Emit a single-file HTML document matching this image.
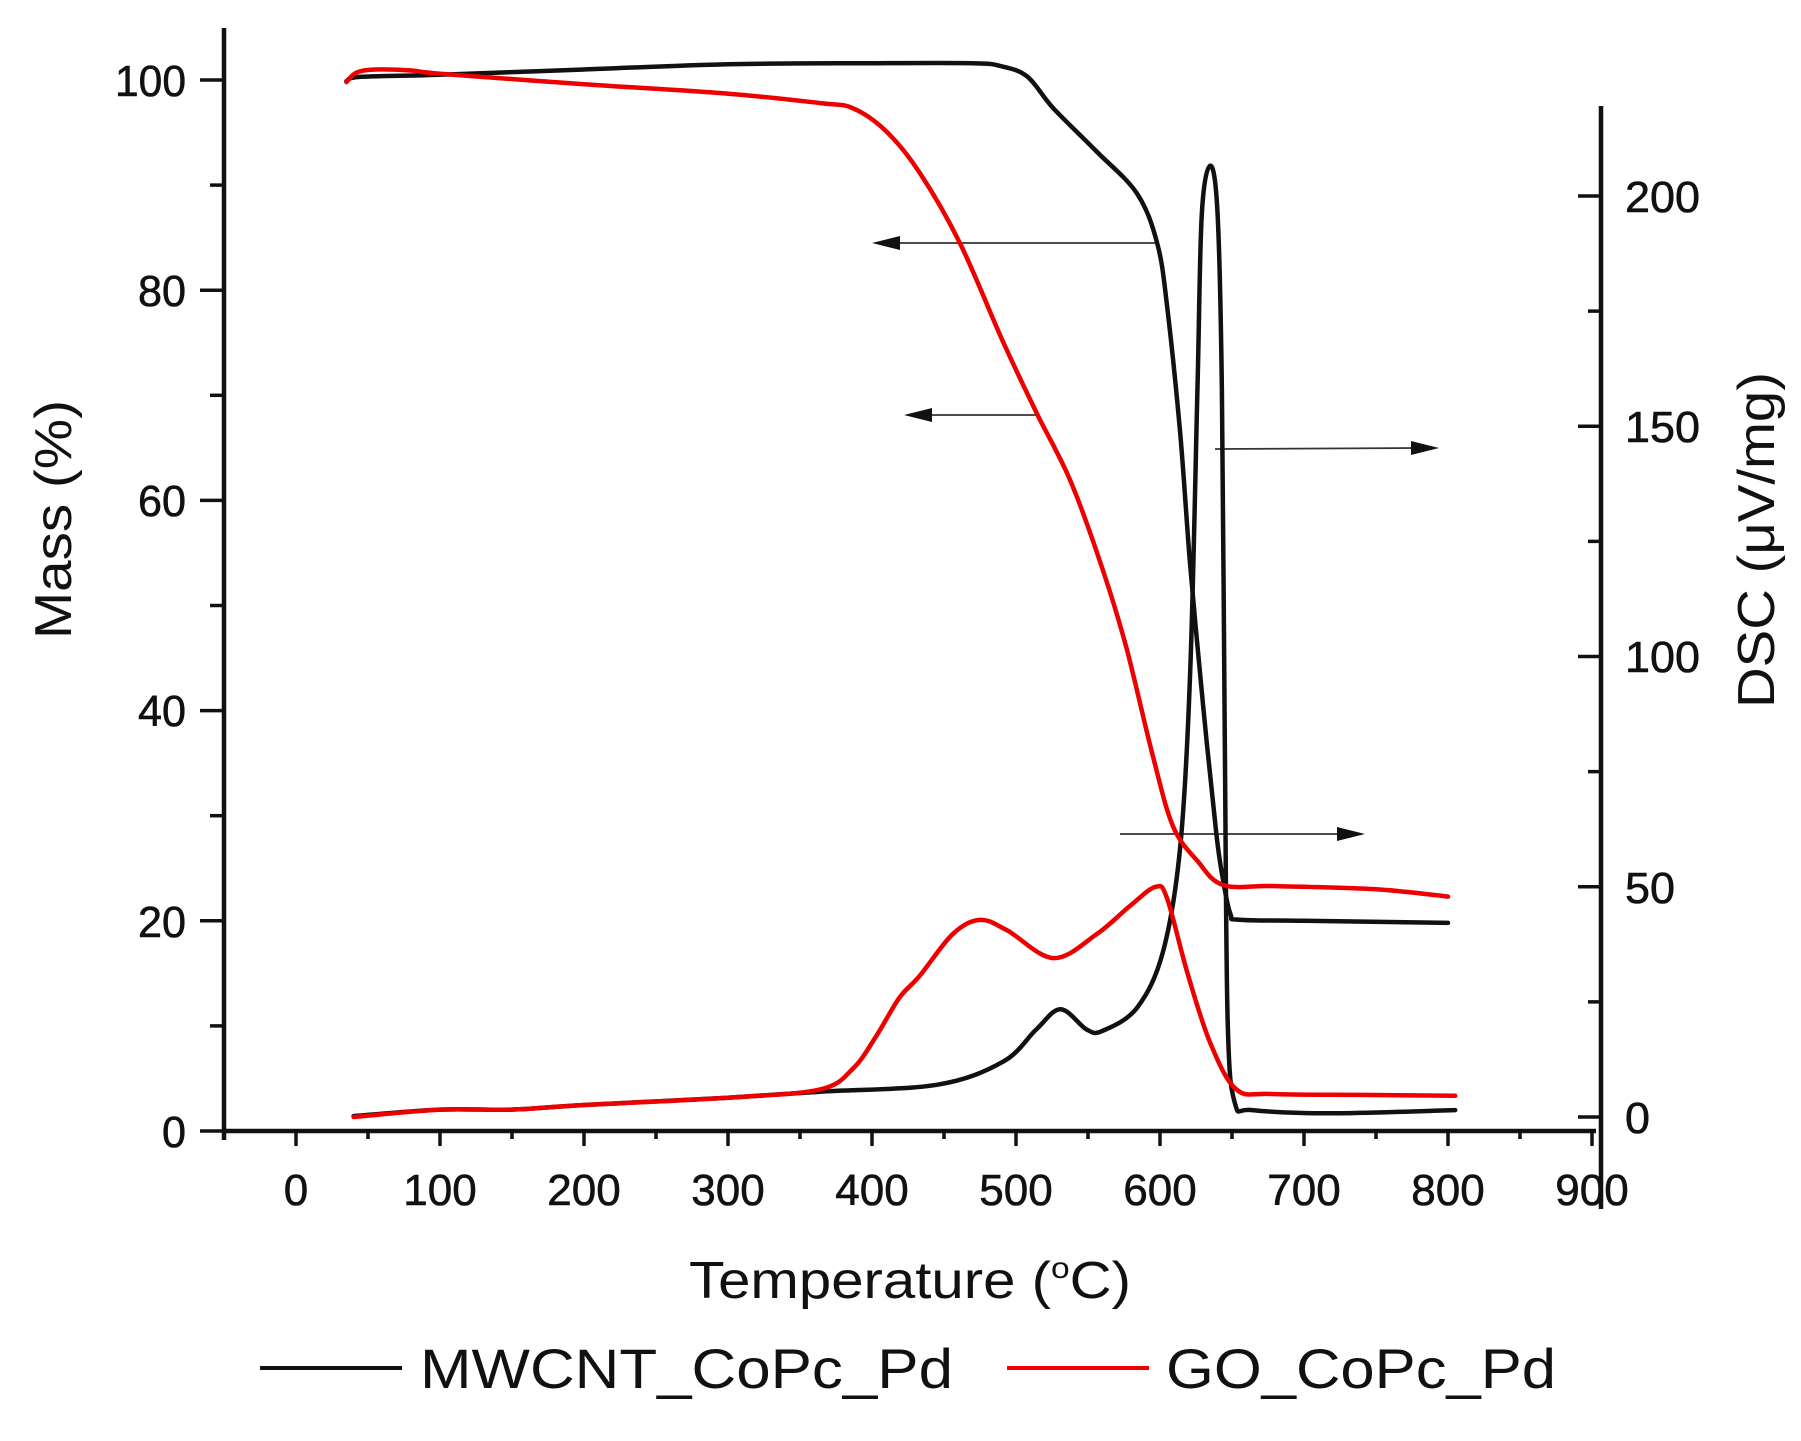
<!DOCTYPE html>
<html><head><meta charset="utf-8"><style>
html,body{margin:0;padding:0;background:#fff;}
svg{display:block;}
text{font-family:"Liberation Sans",Arial,sans-serif;fill:#111;}
</style></head><body>
<svg id="s" width="1801" height="1441" viewBox="0 0 1801 1441" xmlns="http://www.w3.org/2000/svg">
<g id="axes" stroke="#111" stroke-width="4.5" fill="none">
<line x1="224" y1="28" x2="224" y2="1140"/>
<line x1="222" y1="1131" x2="1596" y2="1131"/>
<line x1="1601" y1="106" x2="1601" y2="1209"/>
</g>
<g id="ticks" stroke="#111" stroke-width="3.5"></g>
<g font-size="44" stroke="#111" stroke-width="0.6">
<text x="186" y="96" text-anchor="end" textLength="71" lengthAdjust="spacingAndGlyphs">100</text>
<text x="186" y="306" text-anchor="end" textLength="48" lengthAdjust="spacingAndGlyphs">80</text>
<text x="186" y="516" text-anchor="end" textLength="48" lengthAdjust="spacingAndGlyphs">60</text>
<text x="186" y="726" text-anchor="end" textLength="48" lengthAdjust="spacingAndGlyphs">40</text>
<text x="186" y="937" text-anchor="end" textLength="48" lengthAdjust="spacingAndGlyphs">20</text>
<text x="186" y="1147" text-anchor="end" textLength="24" lengthAdjust="spacingAndGlyphs">0</text>
</g>
<g font-size="44" id="xl" stroke="#111" stroke-width="0.6"></g>
<g font-size="44" stroke="#111" stroke-width="0.6">
<text x="1625" y="212" textLength="75" lengthAdjust="spacingAndGlyphs">200</text>
<text x="1625" y="442" textLength="75" lengthAdjust="spacingAndGlyphs">150</text>
<text x="1625" y="672" textLength="75" lengthAdjust="spacingAndGlyphs">100</text>
<text x="1625" y="903" textLength="50" lengthAdjust="spacingAndGlyphs">50</text>
<text x="1625" y="1133" textLength="25" lengthAdjust="spacingAndGlyphs">0</text>
</g>
<text transform="translate(71,639) rotate(-90)" font-size="52" textLength="239" lengthAdjust="spacingAndGlyphs">Mass (%)</text>
<text transform="translate(1774,708) rotate(-90)" font-size="52" textLength="336" lengthAdjust="spacingAndGlyphs">DSC (μV/mg)</text>
<text x="689" y="1298" font-size="52" textLength="442" lengthAdjust="spacingAndGlyphs">Temperature (<tspan font-size="30" dy="-20">o</tspan><tspan dy="20">C)</tspan></text>
<line x1="260" y1="1368" x2="402" y2="1368" stroke="#111" stroke-width="4"/>
<text x="420" y="1388" font-size="56" textLength="533" lengthAdjust="spacingAndGlyphs">MWCNT_CoPc_Pd</text>
<line x1="1007" y1="1368" x2="1149" y2="1368" stroke="#e00" stroke-width="4"/>
<text x="1166" y="1388" font-size="56" textLength="390" lengthAdjust="spacingAndGlyphs">GO_CoPc_Pd</text>
<g stroke="#333" stroke-width="1.8">
<line x1="1155" y1="243" x2="895" y2="243"/>
<line x1="1037" y1="415" x2="927" y2="415"/>
<line x1="1215" y1="449" x2="1416" y2="448"/>
<line x1="1120" y1="834" x2="1342" y2="834"/>
</g>
<g fill="#111">
<polygon points="872,243 900,236 900,250"/>
<polygon points="904,415 932,408 932,422"/>
<polygon points="1439,448 1411,441 1411,455"/>
<polygon points="1365,834 1337,827 1337,841"/>
</g>
<g id="curves" fill="none" stroke-width="4.5" stroke-linejoin="round" stroke-linecap="round"></g>
</svg>
<script>
var NS="http://www.w3.org/2000/svg";
function X(t){return 296+1.44*t;}
function YM(m){return 1131-10.51*m;}
function YD(d){return 1117-4.605*d;}
var tk=document.getElementById('ticks');
function L(a,b,c,d){var l=document.createElementNS(NS,'line');l.setAttribute('x1',a);l.setAttribute('y1',b);l.setAttribute('x2',c);l.setAttribute('y2',d);tk.appendChild(l);}
for(var m=0;m<=100;m+=10){var y=YM(m);L(m%20==0?200:210,y,224,y);}
for(var t=-50;t<=900;t+=50){var x=X(t);if(t==-50)continue;L(x,1131,x,t%100==0?1146:1139);}
for(var d=0;d<=200;d+=25){var y=YD(d);L(d%50==0?1578:1588,y,1601,y);}
var xl=document.getElementById('xl');
for(var t=0;t<=900;t+=100){var e=document.createElementNS(NS,'text');e.setAttribute('x',X(t));e.setAttribute('y',1205);e.setAttribute('text-anchor','middle');var s=String(t);e.setAttribute('textLength',s.length*24.5);e.setAttribute('lengthAdjust','spacingAndGlyphs');e.textContent=s;xl.appendChild(e);}
function path(pts,fy,col){
 var p=pts.map(function(a){return [X(a[0]),fy(a[1])];});
 var d='M'+p[0][0].toFixed(1)+','+p[0][1].toFixed(1);
 for(var i=0;i<p.length-1;i++){
  var p0=p[i-1]||p[i],p1=p[i],p2=p[i+1],p3=p[i+2]||p2;
  var c1=[p1[0]+(p2[0]-p0[0])/6,p1[1]+(p2[1]-p0[1])/6];
  var c2=[p2[0]-(p3[0]-p1[0])/6,p2[1]-(p3[1]-p1[1])/6];
  d+=' C'+c1[0].toFixed(1)+','+c1[1].toFixed(1)+' '+c2[0].toFixed(1)+','+c2[1].toFixed(1)+' '+p2[0].toFixed(1)+','+p2[1].toFixed(1);
 }
 var e=document.createElementNS(NS,'path');e.setAttribute('d',d);e.setAttribute('stroke',col);document.getElementById('curves').appendChild(e);
}
path([[35,99.9],[45,100.3],[100,100.5],[200,101],[300,101.5],[400,101.6],[470,101.6],[490,101.3],[508,100.3],[526,97.3],[556,93.2],[584,89.2],[598,84.5],[605,78.4],[614,66.4],[621,53.8],[630,40.4],[639,28.4],[644,23.7],[649,20.6],[655,20.1],[700,20],[800,19.8]],YM,'#111');
path([[40,0.2],[100,1.6],[150,1.6],[200,2.6],[300,4.2],[364,5.5],[445,7],[491,12],[514,19],[531,23.4],[549,19],[560,18.7],[584,23.7],[602,35.8],[614,58.6],[621,96.8],[626,157.7],[629,196],[635,206.6],[640,196],[643,157.7],[645,81.6],[647,20.6],[652,3],[664,1.5],[720,0.8],[805,1.5]],YD,'#111');
path([[35,99.8],[42,100.7],[55,101],[80,100.9],[100,100.6],[200,99.6],[300,98.7],[364,97.8],[387,97.3],[410,95.1],[433,91.2],[461,84.5],[491,75.1],[514,68.4],[538,61.8],[561,53.1],[577,45.8],[595,35.7],[609,29],[626,25.7],[644,23.4],[680,23.3],[750,23],[800,22.3]],YM,'#e00');
path([[40,0],[100,1.6],[150,1.6],[200,2.6],[300,4.2],[364,6],[387,10.6],[403,17.6],[419,25.9],[433,30.6],[456,39.7],[475,42.8],[494,40.5],[526,34.5],[556,39.7],[579,45.8],[597,50],[605,47.4],[619,31.3],[635,16],[653,6],[677,5],[740,4.8],[805,4.6]],YD,'#e00');
</script>
</body></html>
